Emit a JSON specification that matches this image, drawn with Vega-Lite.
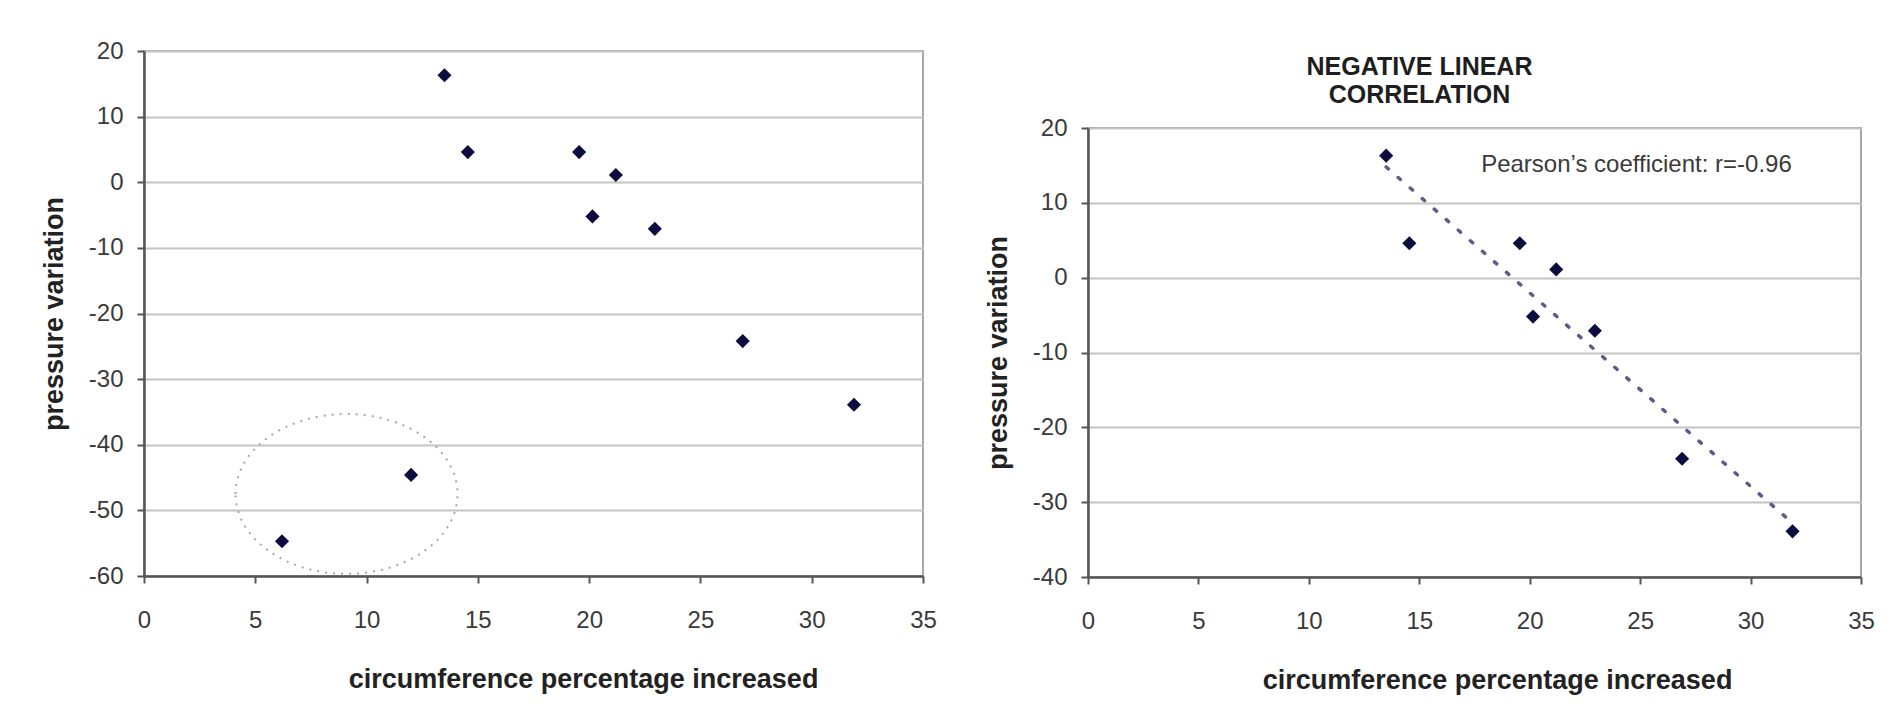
{
  "$schema": "https://vega.github.io/schema/vega-lite/v6.json",
  "background": "white",
  "autosize": {"type": "pad"},
  "padding": {"left": 39, "top": 38, "right": 10, "bottom": 4},
  "datasets": {
    "pts": [
      {"circ": 6.2, "press": -54.7, "group": "outlier"},
      {"circ": 12.0, "press": -44.6, "group": "outlier"},
      {"circ": 13.5, "press": 16.3, "group": "main"},
      {"circ": 14.55, "press": 4.6, "group": "main"},
      {"circ": 19.55, "press": 4.6, "group": "main"},
      {"circ": 20.15, "press": -5.2, "group": "main"},
      {"circ": 21.2, "press": 1.1, "group": "main"},
      {"circ": 22.95, "press": -7.1, "group": "main"},
      {"circ": 26.9, "press": -24.2, "group": "main"},
      {"circ": 31.9, "press": -33.9, "group": "main"}
    ]
  },
  "spacing": 45,
  "hconcat": [
    {
      "width": 779,
      "height": 525,
      "layer": [
        {
          "data": {"values": [{"circ": 9.1, "press": -47.5}]},
          "mark": {"type": "point", "shape": "M -1 0 A 1 0.72 0 1 1 1 0 A 1 0.72 0 1 1 -1 0 Z", "size": 49284, "filled": false, "stroke": "#a8a8a8", "strokeWidth": 2, "strokeDash": [2, 6], "opacity": 1},
          "encoding": {
            "x": {"field": "circ", "type": "quantitative", "scale": {"domain": [0, 35], "nice": false, "zero": false}},
            "y": {"field": "press", "type": "quantitative", "scale": {"domain": [-60, 20], "nice": false, "zero": false}}
          }
        },
        {
          "data": {"name": "pts"},
          "mark": {"type": "point", "shape": "diamond", "filled": true, "size": 200, "color": "#0c0c3e", "opacity": 1},
          "encoding": {
            "x": {"field": "circ", "type": "quantitative", "scale": {"domain": [0, 35], "nice": false, "zero": false},
              "axis": {"title": "circumference percentage increased", "values": [0, 5, 10, 15, 20, 25, 30, 35], "titleX": 439}},
            "y": {"field": "press", "type": "quantitative", "scale": {"domain": [-60, 20], "nice": false, "zero": false},
              "axis": {"title": "pressure variation", "values": [-60, -50, -40, -30, -20, -10, 0, 10, 20]}}
          }
        }
      ]
    },
    {
      "spacing": 7,
      "vconcat": [
        {
          "width": 773,
          "height": 56,
          "view": {"stroke": null},
          "data": {"values": [{"ord": 1, "line": "NEGATIVE LINEAR"}, {"ord": 2, "line": "CORRELATION"}]},
          "mark": {"type": "text", "font": "Liberation Sans", "fontSize": 25, "fontWeight": "bold", "color": "#1e1e1e", "align": "center", "baseline": "middle", "dx": -55, "dy": 2},
          "encoding": {
            "y": {"field": "ord", "type": "ordinal", "scale": {"type": "point", "padding": 0.5}, "axis": null},
            "text": {"field": "line"}
          }
        },
        {
          "width": 773,
          "height": 449,
          "layer": [
            {
              "data": {"name": "pts"},
              "transform": [{"filter": "datum.group == 'main'"}, {"regression": "press", "on": "circ"}],
              "mark": {"type": "line", "strokeDash": [3, 13], "strokeWidth": 3.5, "color": "#5c5c8c", "strokeCap": "round"},
              "encoding": {
                "x": {"field": "circ", "type": "quantitative", "scale": {"domain": [0, 35], "nice": false, "zero": false}},
                "y": {"field": "press", "type": "quantitative", "scale": {"domain": [-40, 20], "nice": false, "zero": false}}
              }
            },
            {
              "data": {"name": "pts"},
              "transform": [{"filter": "datum.group == 'main'"}],
              "mark": {"type": "point", "shape": "diamond", "filled": true, "size": 200, "color": "#0c0c3e", "opacity": 1},
              "encoding": {
                "x": {"field": "circ", "type": "quantitative", "scale": {"domain": [0, 35], "nice": false, "zero": false},
                  "axis": {"title": "circumference percentage increased", "values": [0, 5, 10, 15, 20, 25, 30, 35], "titleX": 409}},
                "y": {"field": "press", "type": "quantitative", "scale": {"domain": [-40, 20], "nice": false, "zero": false},
                  "axis": {"title": "pressure variation", "values": [-40, -30, -20, -10, 0, 10, 20]}}
              }
            },
            {
              "data": {"values": [{"circ": 17.8, "press": 15.1, "label": "Pearson’s coefficient: r=-0.96"}]},
              "mark": {"type": "text", "align": "left", "baseline": "middle", "fontSize": 24, "font": "Liberation Sans", "color": "#3a3a3a"},
              "encoding": {
                "x": {"field": "circ", "type": "quantitative"},
                "y": {"field": "press", "type": "quantitative"},
                "text": {"field": "label"}
              }
            }
          ]
        }
      ]
    }
  ],
  "config": {
    "font": "Liberation Sans",
    "view": {"stroke": "#a8a8a8", "strokeWidth": 2},
    "axis": {
      "domainColor": "#555555", "domainWidth": 2.5, "tickColor": "#555555", "tickWidth": 2, "tickSize": 7,
      "labelFont": "Liberation Sans", "labelFontSize": 24, "labelColor": "#3a3a3a", "labelFlush": false, "labelOverlap": false,
      "labelExpr": "'' + datum.value",
      "titleFont": "Liberation Sans", "titleFontSize": 27, "titleFontWeight": "bold", "titleColor": "#222222",
      "gridColor": "#c4c4c4", "gridWidth": 2
    },
    "axisX": {"grid": false, "labelPadding": 25, "titlePadding": 34},
    "axisY": {"grid": true, "labelPadding": 14, "titlePadding": 20}
  }
}
